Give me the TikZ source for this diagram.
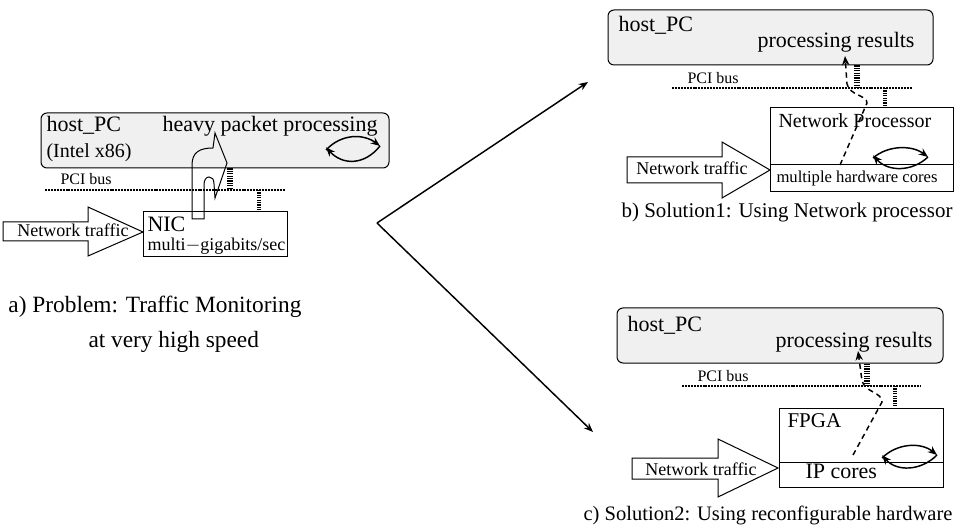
\documentclass[tikz,border=0pt]{standalone}
\usepackage{fontspec}
\setmainfont{Liberation Serif}
\usetikzlibrary{arrows.meta,fit}

\tikzset{every picture/.style={line width=0.75pt}}
\tikzset{
  host/.style={draw, fill={rgb, 255:red, 240; green, 240; blue, 240}, rounded corners=4.5pt, inner sep=0pt},
  board/.style={draw, fill=white, inner sep=0pt},
  pcibus/.style={line width=2pt, dash pattern={on 1.5pt off 0.7pt}},
  hostlink/.style={line width=4.5pt, dash pattern={on 0.9pt off 0.9pt}},
  devlink/.style={line width=2.4pt, dash pattern={on 0.9pt off 0.9pt}},
  flow/.style={line width=1.1pt, -{Stealth[length=7pt,width=5.5pt]}},
  results/.style={line width=1.1pt, dash pattern={on 4pt off 3pt}, -{Stealth[length=7pt,width=5.5pt]}},
  traffic/.style={draw, fill=white, line width=0.75pt},
  lbl/.style={inner sep=0pt, anchor=base west, font=\fontsize{16.5pt}{19pt}\selectfont},
  captxt/.style={lbl, font=\fontsize{16.5pt}{19pt}\selectfont},
  midtxt/.style={lbl, font=\fontsize{13.5pt}{16pt}\selectfont},
  smalltxt/.style={lbl, font=\fontsize{12.5pt}{15pt}\selectfont},
  pcitxt/.style={lbl, font=\fontsize{12pt}{14pt}\selectfont},
}

\begin{document}
\begin{tikzpicture}[x=0.75pt,y=0.75pt,yscale=-1,xscale=1]
\useasboundingbox (0,0) rectangle (955,530);

% a) problem
\node [host, fit={(41,113) (389,168)}] (hostA) {};
\node [board, fit={(143,212) (287,257)}] (nicA) {};
\coordinate (busA1) at (45,190);
\coordinate (busA2) at (285,190);
\coordinate (tapA) at (230,190);
\coordinate (devA) at (259,190);
\draw [pcibus] (busA1) -- (busA2);
\draw [hostlink] (tapA |- hostA.south) -- (tapA);
\draw [devlink] (devA) -- (devA |- nicA.north);
\draw [traffic] (3,222) -- (88,222) -- (88,207) -- (143,232) -- (88,256) -- (88,241) -- (3,241) -- cycle;
% bent arrow out of the NIC
\draw (192,219) -- (192,165) .. controls (192,152) and (200,148) .. (213,148) -- (215,133) -- (227,163) -- (215,198) -- (214,184) .. controls (214,179) and (212,177) .. (209,177) .. controls (206,177) and (204,180) .. (204,185) -- (204,219) -- cycle;
\coordinate (loopA1) at (326,150);
\coordinate (loopA2) at (380,146);
\draw [flow] (loopA1) .. controls (342,133) and (364,134) .. (loopA2);
\draw [flow] (loopA2) .. controls (364,166) and (342,165) .. ([yshift=-2]loopA1);

\node [lbl] (hostAname) at (46,132) {host\_PC};
\node [lbl, font=\fontsize{15pt}{18pt}\selectfont] (hostAcpu) at (46,158) {(Intel x86)};
\node [lbl] (heavyA) at (162,132) {heavy packet processing};
\node [pcitxt] (pciA) at (60,185) {PCI bus};
\node [lbl] (nicAname) at (147,232) {NIC};
\node [midtxt] (nicArate) at (147,251) {multi$-$gigabits/sec};
\node [midtxt, anchor=base] (trafficA) at (73,237) {Network traffic};
\node [captxt, font=\fontsize{17.5pt}{20pt}\selectfont] (capA1) at (8,313) {a) Problem: Traffic Monitoring};
\node [captxt, font=\fontsize{17.5pt}{20pt}\selectfont] (capA2) at (88,348) {at very high speed};

% the two solutions
\coordinate (fork) at (377,223);
\coordinate (toB) at (588,82);
\coordinate (toC) at (593,432);
\draw [flow] (fork) -- (toB);
\draw [flow] (fork) -- (toC);

% b) network processor
\node [host, fit={(608,10) (933,65)}] (hostB) {};
\node [board, fit={(770,108) (953,192)}] (npB) {};
\coordinate (coresB) at (770,165);
\draw (coresB) -- (coresB -| npB.east);
\coordinate (busB1) at (672,88);
\coordinate (busB2) at (912,88);
\coordinate (tapB) at (857,88);
\coordinate (devB) at (885,88);
\draw [pcibus] (busB1) -- (busB2);
\draw [hostlink] (tapB |- hostB.south) -- (tapB);
\draw [devlink] (devB) -- (devB |- npB.north);
\draw [traffic] (627,157) -- (722,157) -- (722,142) -- (770,170) -- (722,198) -- (722,183) -- (627,183) -- cycle;
\coordinate (outB) at (840,165);
\coordinate (inB) at (845,56);
\draw [results] (outB) -- (867,103) .. controls (867,95) and (850,96) .. (847,84) -- (inB);
\coordinate (loopB1) at (873,158);
\coordinate (loopB2) at (928,157);
\draw [flow] (loopB1) .. controls (888,145) and (912,145) .. (loopB2);
\draw [flow] (loopB2) .. controls (912,172) and (888,172) .. ([yshift=-2]loopB1);

\node [lbl] (hostBname) at (618,32) {host\_PC};
\node [lbl] (resultsB) at (757,48) {processing results};
\node [pcitxt] (pciB) at (687,84) {PCI bus};
\node [lbl, font=\fontsize{15pt}{18pt}\selectfont] (npBname) at (778,128) {Network Processor};
\node [smalltxt] (coresBname) at (776,183) {multiple hardware cores};
\node [midtxt, anchor=base] (trafficB) at (692,175) {Network traffic};
\node [captxt, anchor=base east, font=\fontsize{15.7pt}{19pt}\selectfont] (capB) at (953,218) {b) Solution1: Using Network processor};

% c) reconfigurable hardware
\node [host, fit={(617,308) (943,363)}] (hostC) {};
\node [board, fit={(779,408) (943,487)}] (fpgaC) {};
\coordinate (coresC) at (779,462);
\draw (coresC) -- (coresC -| fpgaC.east);
\coordinate (busC1) at (682,386);
\coordinate (busC2) at (920,386);
\coordinate (tapC) at (867,386);
\coordinate (devC) at (895,386);
\draw [pcibus] (busC1) -- (busC2);
\draw [hostlink] (tapC |- hostC.south) -- (tapC);
\draw [devlink] (devC) -- (devC |- fpgaC.north);
\draw [traffic] (632,458) -- (718,458) -- (718,439) -- (778,468) -- (718,497) -- (718,479) -- (632,479) -- cycle;
\coordinate (outC) at (853,455);
\coordinate (inC) at (858,351);
\draw [results] (outC) -- (882,402) .. controls (882,392) and (866,393) .. (862,381) -- (inC);
\coordinate (loopC1) at (882,458);
\coordinate (loopC2) at (937,455);
\draw [flow] (loopC1) .. controls (897,443) and (921,442) .. (loopC2);
\draw [flow] (loopC2) .. controls (921,471) and (897,472) .. ([yshift=-2]loopC1);

\node [lbl] (hostCname) at (627,332) {host\_PC};
\node [lbl] (resultsC) at (775,348) {processing results};
\node [pcitxt] (pciC) at (697,382) {PCI bus};
\node [lbl, font=\fontsize{15.75pt}{18pt}\selectfont] (fpgaCname) at (787,427) {FPGA};
\node [lbl] (coresCname) at (805,478) {IP cores};
\node [midtxt, anchor=base] (trafficC) at (701,475) {Network traffic};
\node [captxt, anchor=base east, font=\fontsize{15.4pt}{19pt}\selectfont] (capC) at (953,520) {c) Solution2: Using reconfigurable hardware};

\end{tikzpicture}
\end{document}
